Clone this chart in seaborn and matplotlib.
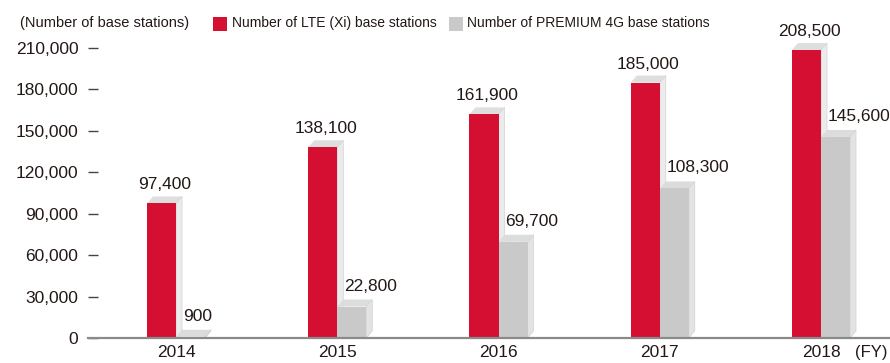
import numpy as np
import pandas as pd
import matplotlib
matplotlib.use("Agg")
import matplotlib.pyplot as plt
from matplotlib import font_manager
from matplotlib.patches import Polygon, Rectangle
import seaborn as sns

# ---- data -------------------------------------------------------------
years = ["2014", "2015", "2016", "2017", "2018"]
series_names = ["Number of LTE (Xi) base stations",
                "Number of PREMIUM 4G base stations"]
lte_values = [97400, 138100, 161900, 185000, 208500]
premium_values = [900, 22800, 69700, 108300, 145600]
y_ticks = [0, 30000, 60000, 90000, 120000, 150000, 180000, 210000]

# ---- style ------------------------------------------------------------
RED = "#D40F32"
GRAY = "#C9C9C9"
TEXT = "#231815"
sns.set_theme(style="white")
available = {f.name for f in font_manager.fontManager.ttflist}
family = "Liberation Sans Narrow" if "Liberation Sans Narrow" in available else "Liberation Sans"
plt.rcParams["font.family"] = [family, "DejaVu Sans"]

W, H, DPI = 890, 363, 100
fig = plt.figure(figsize=(W / DPI, H / DPI), dpi=DPI)
ax = fig.add_axes([88 / W, (H - 338) / H, (W - 88) / W, 290 / H])

df = pd.DataFrame({
    "year": years * 2,
    "series": [series_names[0]] * len(years) + [series_names[1]] * len(years),
    "value": lte_values + premium_values,
})
sns.barplot(data=df, x="year", y="value", hue="series", order=years,
            hue_order=series_names, palette=[RED, GRAY], width=0.36,
            gap=0, dodge=True, legend=False, saturation=1, ax=ax,
            linewidth=0, errorbar=None)

ax.set_xlim(-0.546, 4.428)
ax.set_ylim(0, 210000)
ax.set_yticks(y_ticks)
ax.set_yticklabels([f"{v:,}" for v in y_ticks])
ax.set_xlabel("")
ax.set_ylabel("")
for s in ["top", "right", "left"]:
    ax.spines[s].set_visible(False)
ax.spines["bottom"].set_color("#8a8a8a")
ax.spines["bottom"].set_linewidth(1.6)
ax.spines["bottom"].set_zorder(5)
ax.tick_params(axis="y", direction="in", length=7.5, width=1.0,
               color="#444444", labelsize=12.5, labelcolor=TEXT, pad=7, left=True)
ax.tick_params(axis="x", length=0, labelsize=12.5, labelcolor=TEXT, pad=5)

# ---- extruded faces for each bar --------------------------------------
fig.canvas.draw()
to_disp = ax.transData.transform
to_data = ax.transData.inverted().transform
DX, DY = 6, 7  # extrusion depth in pixels

bars = [p for p in ax.patches if isinstance(p, Rectangle)]
n = len(years)
face_colors = {0: ("#DEDEDE", "#EBEBEB"), 1: ("#DCDCDC", "#E3E3E3")}
for i, bar in enumerate(bars):
    kind = 0 if i < n else 1
    bar.set_zorder(3)
    x0, y0 = bar.get_x(), bar.get_y()
    x1, y1 = x0 + bar.get_width(), y0 + bar.get_height()
    (px0, py0), (px1, py1) = to_disp([(x0, y0), (x1, y1)])
    top = to_data([(px0, py1), (px1, py1), (px1 + DX, py1 + DY), (px0 + DX, py1 + DY)])
    side = to_data([(px1, py0), (px1 + DX, py0 + DY), (px1 + DX, py1 + DY), (px1, py1)])
    top_c, side_c = face_colors[kind]
    ax.add_patch(Polygon(top, closed=True, facecolor=top_c, edgecolor="none",
                         zorder=2, clip_on=False))
    ax.add_patch(Polygon(side, closed=True, facecolor=side_c, edgecolor="#D2D2D2",
                         linewidth=0.5, zorder=2, clip_on=False))

    value = (lte_values + premium_values)[i]
    if kind == 0:
        ax.annotate(f"{value:,}", xy=((x0 + x1) / 2, y1), xytext=(3, 11),
                    textcoords="offset pixels", ha="center", va="bottom",
                    fontsize=12.5, color=TEXT, annotation_clip=False)
    else:
        ax.annotate(f"{value:,}", xy=(x0, y1), xytext=(7, 13),
                    textcoords="offset pixels", ha="left", va="bottom",
                    fontsize=12.5, color=TEXT, annotation_clip=False)

# ---- header texts and legend ------------------------------------------
def fx(px):
    return px / W

def fy(py):
    return 1 - py / H

fig.text(fx(20), fy(23), "(Number of base stations)", ha="left", va="center",
         fontsize=10.5, color=TEXT)
fig.text(fx(888), fy(353), "(FY)", ha="right", va="center",
         fontsize=12, color=TEXT)
for (sx, tx), color, label in zip([(213, 232), (449, 467)], [RED, GRAY], series_names):
    fig.add_artist(Rectangle((fx(sx), fy(31)), 14 / W, 14 / H,
                             transform=fig.transFigure, facecolor=color,
                             edgecolor="none"))
    fig.text(fx(tx), fy(23), label, ha="left", va="center", fontsize=10,
             color=TEXT)

fig.savefig("out.png", dpi=DPI)
